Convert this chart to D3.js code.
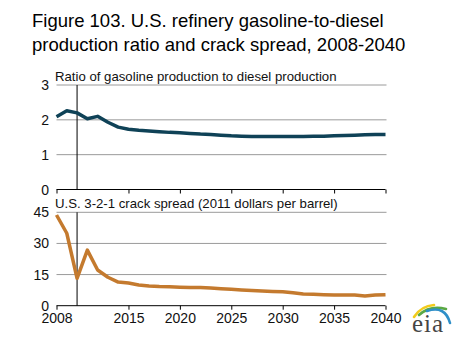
<!DOCTYPE html>
<html><head><meta charset="utf-8">
<script src="https://cdn.jsdelivr.net/npm/d3@7"></script>
<style>body{margin:0;background:#fff}svg{display:block;font-family:"Liberation Sans",Arial,sans-serif}</style>
</head><body><svg id="c" width="466" height="357"></svg>
<script>
const years = d3.range(2008, 2041);
const ratio = [2.09,2.26,2.20,2.03,2.10,1.93,1.79,1.73,1.70,1.68,1.66,1.64,1.63,1.61,1.59,1.58,1.56,1.54,1.53,1.52,1.52,1.52,1.52,1.52,1.52,1.53,1.53,1.54,1.55,1.56,1.57,1.58,1.58];
const crack = [43.7,34.9,13.2,26.8,17.2,13.7,11.4,10.9,10.0,9.5,9.2,9.1,8.9,8.8,8.8,8.5,8.2,7.9,7.6,7.3,7.1,6.9,6.7,6.2,5.6,5.5,5.3,5.2,5.2,5.1,4.7,5.1,5.3];
const xTicks = [2008,2015,2020,2025,2030,2035,2040];
const ratioTicks = [0,1,2,3];
const crackTicks = [0,15,30,45];
const title = ["Figure 103. U.S. refinery gasoline-to-diesel","production ratio and crack spread, 2008-2040"];
const panelTitles = ["Ratio of gasoline production to diesel production","U.S. 3-2-1 crack spread (2011 dollars per barrel)"];

const svg = d3.select("#c");
svg.selectAll("text.title").data(title).join("text")
  .attr("x",32).attr("y",(d,i)=>27+i*23.5).attr("font-size",18.5).attr("fill","#000").text(d=>d);

const x = d3.scaleLinear().domain([2008,2040]).range([56.5,385.5]);

function panel(data, ticks, yMax, y0, y1, color, ptitle, showLabels){
  const y = d3.scaleLinear().domain([0,yMax]).range([y0,y1]);
  const g = svg.append("g");
  g.selectAll("line.grid").data(ticks.filter(t=>t>0)).join("line")
    .attr("x1",x(2008)).attr("x2",x(2040)+1).attr("y1",d=>y(d)).attr("y2",d=>y(d))
    .attr("stroke","#9a9a9a").attr("stroke-width",1);
  g.selectAll("text.yl").data(ticks).join("text")
    .attr("x",49).attr("y",d=>y(d)+5).attr("text-anchor","end").attr("font-size",14).attr("fill","#111").text(d=>d);
  g.append("line").attr("x1",x(2010)).attr("x2",x(2010)).attr("y1",y(yMax)).attr("y2",y(0)).attr("stroke","#000").attr("stroke-width",1);
  const ax = d3.axisBottom(x).tickValues(xTicks).tickSize(4).tickFormat(showLabels? d3.format("d") : "");
  const axg = g.append("g").attr("transform",`translate(0,${y(0)})`).call(ax);
  axg.select(".domain").attr("d",`M${x(2008)},0H${x(2040)}`).attr("stroke","#000");
  axg.selectAll(".tick line").attr("stroke","#000");
  axg.selectAll(".tick text").attr("font-size",14).attr("font-family","Liberation Sans, Arial, sans-serif").attr("fill","#111").attr("dy","0.85em").attr("y",5);
  g.append("text").attr("x",55).attr("y",y(yMax)-4).attr("font-size",13.2).attr("fill","#111").text(ptitle);
  const line = d3.line().x((d,i)=>x(years[i])).y(d=>y(d)).curve(d3.curveLinear);
  g.append("path").datum(data).attr("d",line).attr("fill","none").attr("stroke",color).attr("stroke-width",3.5).attr("stroke-linejoin","round");
}
panel(ratio, ratioTicks, 3, 189.5, 85, "#0f4257", panelTitles[0], false);
panel(crack, crackTicks, 45, 305.7, 212.3, "#c47a2e", panelTitles[1], true);

// EIA logo
const lg = svg.append("g");
const arcs = [["#f2cc1c","M414,317 Q421,306 434,305"],["#5aa845","M419,315 Q430,305 446,309"],["#2f8fc8","M427,311 Q445,305 450,323"]];
lg.selectAll("path").data(arcs).join("path").attr("d",d=>d[1]).attr("fill","none").attr("stroke",d=>d[0]).attr("stroke-width",2.6).attr("stroke-linecap","round");
lg.append("text").attr("x",412).attr("y",332).attr("font-size",25).attr("font-family","Liberation Serif, serif").attr("fill","#454545").attr("textLength",31).text("eia");
</script></body></html>
